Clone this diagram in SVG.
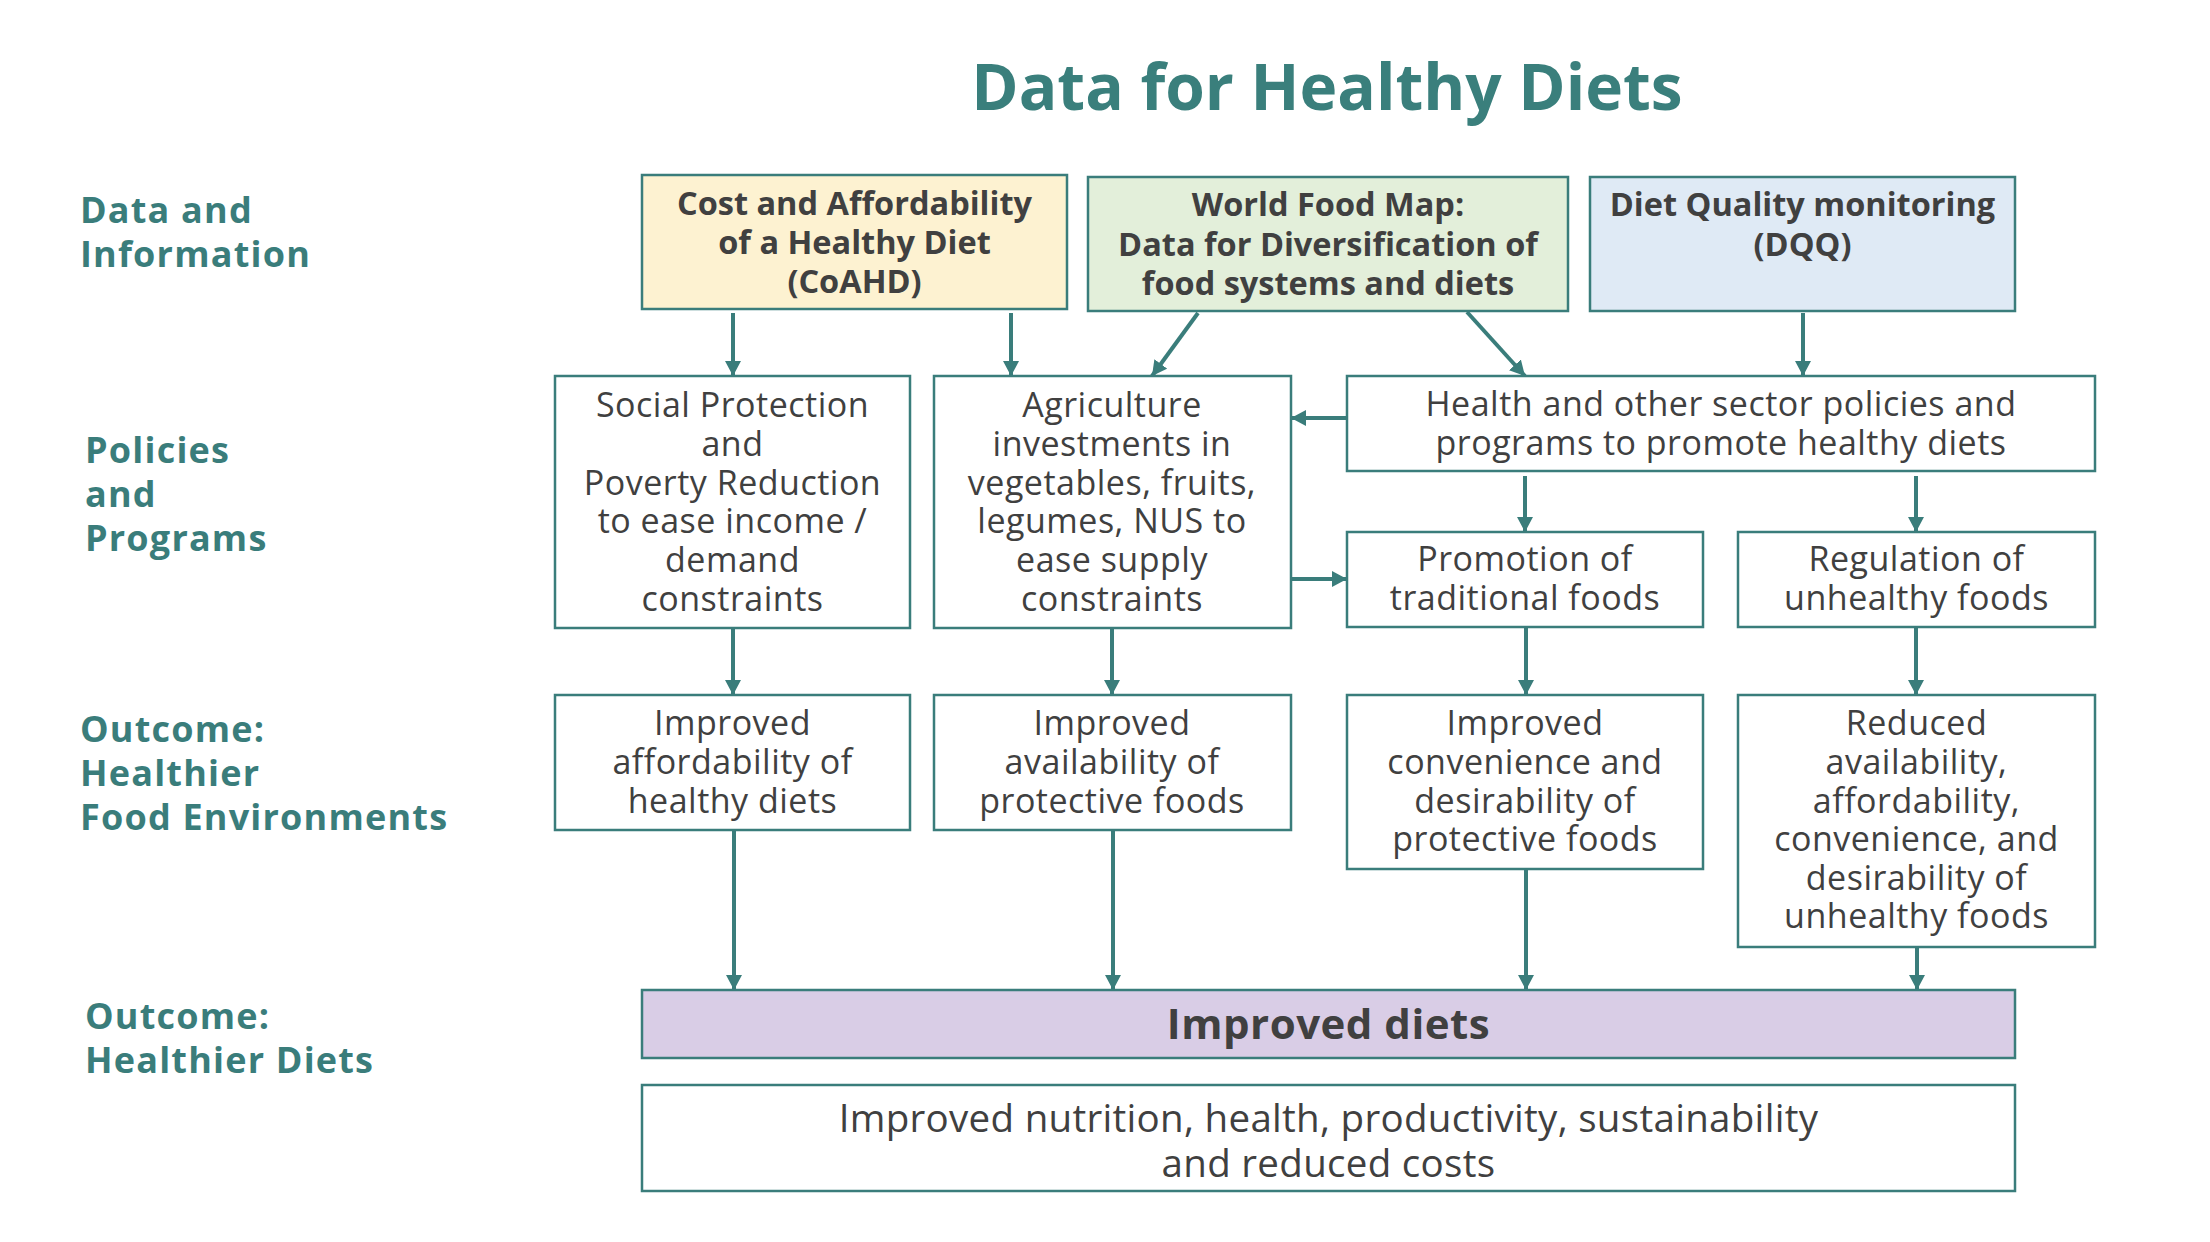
<svg xmlns="http://www.w3.org/2000/svg" width="2210" height="1242" viewBox="0 0 2210 1242">
<defs>
<style>
.bg{fill:#ffffff}
.box{fill:#ffffff;stroke:#3a7d7b;stroke-width:2.5}
.y{fill:#fdf2d1}
.g{fill:#e3efda}
.b{fill:#dfeaf5}
.p{fill:#d9cde6}
.t{font-family:"Open Sans","Liberation Sans",sans-serif;font-size:34px;letter-spacing:0.5px;fill:#404040;text-anchor:middle}
.tb{font-family:"Open Sans","Liberation Sans",sans-serif;font-size:32.5px;font-weight:bold;fill:#404040;text-anchor:middle}
.tf{font-family:"Open Sans","Liberation Sans",sans-serif;font-size:38.5px;letter-spacing:0.3px;fill:#404040;text-anchor:middle}
.lab{font-family:"Open Sans","Liberation Sans",sans-serif;font-size:36px;letter-spacing:1.2px;font-weight:bold;fill:#3a7d7b}
.title{font-family:"Open Sans","Liberation Sans",sans-serif;font-size:64px;font-weight:bold;fill:#3a7f7c;text-anchor:middle}
.c{stroke:#3a7d7b;stroke-width:4;fill:none;marker-end:url(#ah)}
</style>
<marker id="ah" markerUnits="userSpaceOnUse" viewBox="0 0 15 16" refX="15" refY="8" markerWidth="15" markerHeight="16" orient="auto">
<path d="M0,0 L15,8 L0,16 z" fill="#3a7d7b"/>
</marker>
</defs>
<rect class="bg" x="0" y="0" width="2210" height="1242"/>

<text class="title" x="1327" y="110">Data for Healthy Diets</text>

<g id="labels">
<text class="lab" x="80" y="223">Data and</text>
<text class="lab" x="80" y="267">Information</text>
<text class="lab" x="85" y="463">Policies</text>
<text class="lab" x="85" y="507">and</text>
<text class="lab" x="85" y="551">Programs</text>
<text class="lab" x="80" y="742">Outcome:</text>
<text class="lab" x="80" y="786">Healthier</text>
<text class="lab" x="80" y="830">Food Environments</text>
<text class="lab" x="85" y="1029">Outcome:</text>
<text class="lab" x="85" y="1073">Healthier Diets</text>
</g>

<g id="connectors">
<line class="c" x1="733" y1="313" x2="733" y2="376"/>
<line class="c" x1="1011" y1="313" x2="1011" y2="376"/>
<line class="c" x1="1198" y1="313" x2="1152" y2="376"/>
<line class="c" x1="1467" y1="312" x2="1525" y2="376"/>
<line class="c" x1="1803" y1="313" x2="1803" y2="376"/>
<line class="c" x1="1347" y1="418" x2="1291" y2="418"/>
<line class="c" x1="1291" y1="579" x2="1347" y2="579"/>
<line class="c" x1="1525" y1="476" x2="1525" y2="532"/>
<line class="c" x1="1916" y1="476" x2="1916" y2="532"/>
<line class="c" x1="733" y1="628" x2="733" y2="695"/>
<line class="c" x1="1112" y1="628" x2="1112" y2="695"/>
<line class="c" x1="1526" y1="627" x2="1526" y2="695"/>
<line class="c" x1="1916" y1="627" x2="1916" y2="695"/>
<line class="c" x1="734" y1="830" x2="734" y2="990"/>
<line class="c" x1="1113" y1="830" x2="1113" y2="990"/>
<line class="c" x1="1526" y1="869" x2="1526" y2="990"/>
<line class="c" x1="1917" y1="947" x2="1917" y2="990"/>
</g>

<g id="coahd">
<rect class="box y" x="642" y="175" width="425" height="134"/>
<text class="tb" x="854.5" y="215">Cost and Affordability</text>
<text class="tb" x="854.5" y="254">of a Healthy Diet</text>
<text class="tb" x="854.5" y="293">(CoAHD)</text>
</g>

<g id="wfm">
<rect class="box g" x="1088" y="177" width="480" height="134"/>
<text class="tb" x="1328" y="216">World Food Map:</text>
<text class="tb" x="1328" y="256">Data for Diversification of</text>
<text class="tb" x="1328" y="295">food systems and diets</text>
</g>

<g id="dqq">
<rect class="box b" x="1590" y="177" width="425" height="134"/>
<text class="tb" x="1802.5" y="216">Diet Quality monitoring</text>
<text class="tb" x="1802.5" y="256">(DQQ)</text>
</g>

<g id="social">
<rect class="box" x="555" y="376" width="355" height="252"/>
<text class="t" x="732.5" y="417">Social Protection</text>
<text class="t" x="732.5" y="456">and</text>
<text class="t" x="732.5" y="495">Poverty Reduction</text>
<text class="t" x="732.5" y="533">to ease income /</text>
<text class="t" x="732.5" y="572">demand</text>
<text class="t" x="732.5" y="611">constraints</text>
</g>

<g id="agri">
<rect class="box" x="934" y="376" width="357" height="252"/>
<text class="t" x="1112" y="417">Agriculture</text>
<text class="t" x="1112" y="456">investments in</text>
<text class="t" x="1112" y="495">vegetables, fruits,</text>
<text class="t" x="1112" y="533">legumes, NUS to</text>
<text class="t" x="1112" y="572">ease supply</text>
<text class="t" x="1112" y="611">constraints</text>
</g>

<g id="health">
<rect class="box" x="1347" y="376" width="748" height="95"/>
<text class="t" x="1721" y="416">Health and other sector policies and</text>
<text class="t" x="1721" y="455">programs to promote healthy diets</text>
</g>

<g id="promotion">
<rect class="box" x="1347" y="532" width="356" height="95"/>
<text class="t" x="1525" y="571">Promotion of</text>
<text class="t" x="1525" y="610">traditional foods</text>
</g>

<g id="regulation">
<rect class="box" x="1738" y="532" width="357" height="95"/>
<text class="t" x="1916.5" y="571">Regulation of</text>
<text class="t" x="1916.5" y="610">unhealthy foods</text>
</g>

<g id="affordability">
<rect class="box" x="555" y="695" width="355" height="135"/>
<text class="t" x="732.5" y="735">Improved</text>
<text class="t" x="732.5" y="774">affordability of</text>
<text class="t" x="732.5" y="813">healthy diets</text>
</g>

<g id="availability">
<rect class="box" x="934" y="695" width="357" height="135"/>
<text class="t" x="1112" y="735">Improved</text>
<text class="t" x="1112" y="774">availability of</text>
<text class="t" x="1112" y="813">protective foods</text>
</g>

<g id="convenience">
<rect class="box" x="1347" y="695" width="356" height="174"/>
<text class="t" x="1525" y="735">Improved</text>
<text class="t" x="1525" y="774">convenience and</text>
<text class="t" x="1525" y="813">desirability of</text>
<text class="t" x="1525" y="851">protective foods</text>
</g>

<g id="reduced">
<rect class="box" x="1738" y="695" width="357" height="252"/>
<text class="t" x="1916.5" y="735">Reduced</text>
<text class="t" x="1916.5" y="774">availability,</text>
<text class="t" x="1916.5" y="813">affordability,</text>
<text class="t" x="1916.5" y="851">convenience, and</text>
<text class="t" x="1916.5" y="890">desirability of</text>
<text class="t" x="1916.5" y="928">unhealthy foods</text>
</g>

<g id="diets">
<rect class="box p" x="642" y="990" width="1373" height="68"/>
<text class="tb" x="1328.5" y="1039" style="font-size:42px;letter-spacing:0.5px">Improved diets</text>
</g>

<g id="final">
<rect class="box" x="642" y="1085" width="1373" height="106"/>
<text class="tf" x="1328.5" y="1132">Improved nutrition, health, productivity, sustainability</text>
<text class="tf" x="1328.5" y="1177">and reduced costs</text>
</g>
</svg>
